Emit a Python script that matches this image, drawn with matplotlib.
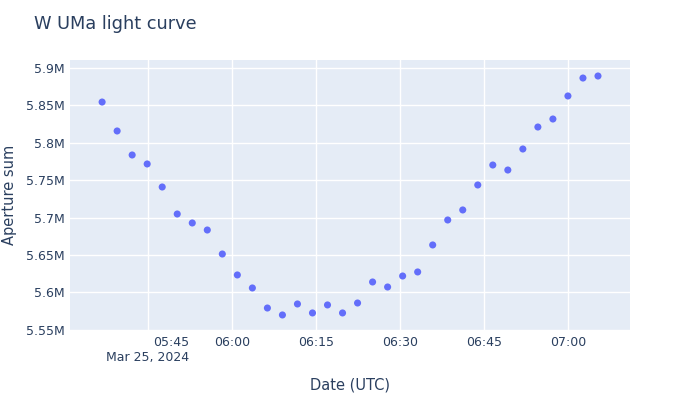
import matplotlib
matplotlib.use("Agg")
import matplotlib.pyplot as plt
import matplotlib.dates as mdates
import pandas as pd
from matplotlib.ticker import FuncFormatter, FixedLocator

times = ["05:36:48","05:39:29","05:42:10","05:44:51","05:47:32","05:50:13","05:52:54","05:55:35",
         "05:58:16","06:00:57","06:03:38","06:06:19","06:09:00","06:11:41","06:14:22","06:17:03",
         "06:19:44","06:22:25","06:25:06","06:27:47","06:30:28","06:33:09","06:35:50","06:38:31",
         "06:41:12","06:43:53","06:46:34","06:49:15","06:51:56","06:54:37","06:57:18","06:59:59",
         "07:02:40","07:05:21"]
aperture_sum = [5.8545,5.8158,5.7837,5.7717,5.7409,5.7048,5.6928,5.6834,5.6513,5.6233,5.6059,
                5.5791,5.5698,5.5845,5.5725,5.5832,5.5725,5.5858,5.6139,5.6072,5.6219,5.6273,
                5.6634,5.6968,5.7102,5.7436,5.7703,5.7636,5.7917,5.8211,5.8318,5.8626,5.8866,5.8893]
y_ticks = [5.55, 5.6, 5.65, 5.7, 5.75, 5.8, 5.85, 5.9]
y_tick_labels = ["5.55M","5.6M","5.65M","5.7M","5.75M","5.8M","5.85M","5.9M"]
x_ticks = ["05:45","06:00","06:15","06:30","06:45","07:00"]

t = pd.to_datetime(["2024-03-25 " + s for s in times])
vals = [v * 1e6 for v in aperture_sum]

fc = "#2a3f5f"
fig = plt.figure(figsize=(6.8, 4), dpi=100)
ax = fig.add_axes([70/680, 70/400, 560/680, 270/400])
ax.set_facecolor("#E5ECF6")
ax.scatter(t, vals, s=26, color="#636EFA", edgecolors="none", zorder=3)

ax.set_xlim(pd.Timestamp("2024-03-25 05:31:04"), pd.Timestamp("2024-03-25 07:11:04"))
ax.set_ylim(5.5497e6, 5.9107e6)
xt = pd.to_datetime(["2024-03-25 " + s for s in x_ticks])
ax.xaxis.set_major_locator(FixedLocator(mdates.date2num(xt)))
labels = [x_ticks[0] + "\nMar 25, 2024"] + x_ticks[1:]
ax.set_xticklabels(labels, ha="center", va="top")
for lab in ax.get_xticklabels()[:1]:
    lab.set_multialignment("right")
ax.set_yticks([v * 1e6 for v in y_ticks])
ax.set_yticklabels(y_tick_labels)
ax.grid(True, color="white", linewidth=1)
ax.set_axisbelow(True)
for sp in ax.spines.values():
    sp.set_visible(False)
ax.tick_params(length=0, labelsize=9, colors=fc, pad=4)
ax.set_xlabel("Date (UTC)", fontsize=10.5, color=fc, labelpad=10)
ax.set_ylabel("Aperture sum", fontsize=10.5, color=fc, labelpad=6)
fig.text(34/680, 1 - 24/400, "W UMa light curve", fontsize=12.75, color=fc, va="center")
fig.savefig("out.png", dpi=100, facecolor="white")
